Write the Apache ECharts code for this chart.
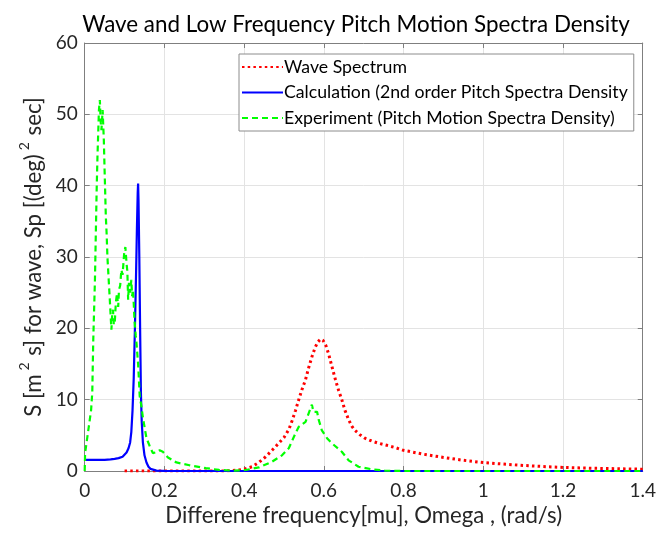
<!DOCTYPE html>
<html>
<head>
<meta charset="utf-8">
<script src="https://cdn.jsdelivr.net/npm/echarts@6/dist/echarts.min.js"></script>
<style>html,body{margin:0;padding:0;background:#fff}#c{width:659px;height:534px}</style>
</head>
<body>
<div id="c"></div>
<script>
var titleText = 'Wave and Low Frequency Pitch Motion Spectra Density';
var seriesNames = ['Wave Spectrum', 'Calculation (2nd order Pitch Spectra Density', 'Experiment (Pitch Motion Spectra Density)'];
var xTickLabels = ['0', '0.2', '0.4', '0.6', '0.8', '1', '1.2', '1.4'];
var yTickLabels = ['0', '10', '20', '30', '40', '50', '60'];

var waveX = [0.1,0.2,0.3,0.36,0.38,0.40,0.42,0.437,0.454,0.47,0.487,0.5,0.512,0.52,0.529,0.537,0.545,0.554,0.562,0.57,0.578,0.585,0.592,0.598,0.605,0.612,0.62,0.629,0.637,0.645,0.653,0.662,0.67,0.678,0.69,0.703,0.72,0.737,0.758,0.778,0.8,0.85,0.9,0.95,1.0,1.05,1.1,1.15,1.2,1.25,1.3,1.35,1.4];
var waveY = [0,0,0,0.02,0.1,0.25,0.6,1.2,2.0,2.9,3.9,4.7,5.8,7.0,8.5,10,11.4,12.8,14.5,16.0,17.3,18.1,18.5,18.3,17.6,16.4,14.7,12.8,11.3,10,8.5,7.2,6.3,5.7,5.1,4.6,4.2,3.9,3.6,3.3,2.9,2.35,1.9,1.5,1.18,0.97,0.78,0.63,0.5,0.42,0.36,0.3,0.25];

var calcX = [0,0.03,0.05,0.065,0.075,0.085,0.095,0.1,0.105,0.11,0.114,0.117,0.12,0.123,0.126,0.129,0.131,0.133,0.134,0.135,0.137,0.139,0.141,0.143,0.146,0.15,0.155,0.16,0.165,0.17,0.18,0.2,0.25,0.5,0.8,1.1,1.4];
var calcY = [1.55,1.55,1.57,1.62,1.7,1.8,2.0,2.2,2.6,3.2,4.0,5.5,8.5,13,20,28,34,39,40.3,38,30,20,11,7,4,2.2,1.2,0.6,0.3,0.15,0.05,0.02,0,0,0,0,0];

var expX = [0,0.001,0.008,0.016,0.019,0.0215,0.0257,0.03,0.032,0.0357,0.038,0.04,0.042,0.045,0.048,0.05,0.053,0.055,0.057,0.06,0.063,0.067,0.069,0.071,0.073,0.0756,0.078,0.081,0.084,0.086,0.089,0.092,0.095,0.099,0.102,0.105,0.107,0.109,0.111,0.114,0.117,0.119,0.121,0.123,0.125,0.128,0.13,0.134,0.138,0.142,0.146,0.15,0.155,0.163,0.171,0.178,0.188,0.196,0.209,0.23,0.263,0.304,0.337,0.37,0.404,0.437,0.47,0.495,0.512,0.529,0.537,0.554,0.57,0.574,0.583,0.587,0.595,0.608,0.62,0.645,0.662,0.687,0.72,0.753,0.8,1.0,1.2,1.4];
var expY = [0,2.5,5.3,8.5,11,18.4,26.8,39.4,44,50.6,52,49,47.8,50.6,46.4,42,35.7,33.3,30,27,24,19.8,22,22.6,20.5,21,23.5,24.9,23,25.4,26,28.2,27.5,30.5,31.4,29.1,28,24,26.4,25,26.8,24.5,25.4,23.5,21,19,17.9,15,10.5,9.2,7.5,6.2,4.6,3.5,2.5,2.6,2.9,2.7,1.9,1.2,0.8,0.4,0.15,0.05,0.14,0.5,1.3,2.2,3.2,5.3,6.2,6.9,9.3,8.3,8.3,7.2,5.7,4.6,3.9,2.7,1.5,0.6,0.24,0.05,0,0,0,0];

function pairs(xs, ys) { return xs.map(function (x, i) { return [x, ys[i]]; }); }

var FONT = 'Lato';
var TXT = '#262626';
var AX = '#7f7f7f';

var chart = echarts.init(document.getElementById('c'), null, {renderer: 'canvas'});
chart.setOption({
  animation: false,
  backgroundColor: '#fff',
  textStyle: {fontFamily: FONT},
  title: {
    text: titleText, left: 351, top: 9, textAlign: 'center',
    textStyle: {fontFamily: FONT, fontSize: 22.4, fontWeight: 'normal', color: '#000'}
  },
  legend: {
    orient: 'vertical', left: 239, top: 54,
    itemWidth: 41, itemHeight: 14, itemGap: 7.5,
    padding: [4, 6, 4, 2],
    backgroundColor: '#fff', borderColor: '#8c8c8c', borderWidth: 1,
    itemStyle: {opacity: 0},
    textStyle: {fontFamily: FONT, fontSize: 17.7, color: '#000', padding: [0, 0, 0, -4]},
    data: seriesNames
  },
  grid: {left: 84.7, right: 13, top: 43, bottom: 63, containLabel: false},
  xAxis: [{
    type: 'value', min: 0, max: 1.4, interval: 0.2,
    name: 'Differene frequency[mu], Omega , (rad/s)',
    nameLocation: 'middle', nameGap: 28,
    nameTextStyle: {fontFamily: FONT, fontSize: 22.2, color: TXT},
    axisLine: {show: true, onZero: false, lineStyle: {color: AX, width: 1}},
    axisTick: {show: true, inside: true, length: 5, lineStyle: {color: AX}},
    axisLabel: {fontFamily: FONT, fontSize: 19, color: TXT, margin: 10,
      formatter: function (v) { return xTickLabels[Math.round(v / 0.2)]; }},
    splitLine: {show: true, lineStyle: {color: '#e3e3e3', width: 1}}
  }, {
    type: 'value', min: 0, max: 1.4, interval: 0.2, position: 'top',
    axisLine: {show: true, onZero: false, lineStyle: {color: AX, width: 1}},
    axisTick: {show: true, inside: true, length: 5, lineStyle: {color: AX}},
    axisLabel: {show: false}, splitLine: {show: false}
  }],
  yAxis: [{
    type: 'value', min: 0, max: 60, interval: 10,
    name: '{n|S [m}{s|2}{n| s] for wave, Sp [(deg)}{s|2}{n| sec]}',
    nameLocation: 'middle', nameGap: 40,
    nameTextStyle: {
      rich: {
        n: {fontFamily: FONT, fontSize: 22.3, color: TXT, lineHeight: 27, verticalAlign: 'bottom'},
        s: {fontFamily: FONT, fontSize: 14, color: TXT, lineHeight: 27, verticalAlign: 'top', padding: [0, 1, 0, 4]}
      }
    },
    axisLine: {show: true, onZero: false, lineStyle: {color: AX, width: 1}},
    axisTick: {show: true, inside: true, length: 5, lineStyle: {color: AX}},
    axisLabel: {fontFamily: FONT, fontSize: 19, color: TXT, margin: 7,
      formatter: function (v) { return yTickLabels[Math.round(v / 10)]; }},
    splitLine: {show: true, lineStyle: {color: '#e3e3e3', width: 1}}
  }, {
    type: 'value', min: 0, max: 60, interval: 10, position: 'right',
    axisLine: {show: true, onZero: false, lineStyle: {color: AX, width: 1}},
    axisTick: {show: true, inside: true, length: 5, lineStyle: {color: AX}},
    axisLabel: {show: false}, splitLine: {show: false}
  }],
  series: [{
    name: seriesNames[0], type: 'line', showSymbol: false, symbol: 'none',
    data: pairs(waveX, waveY), z: 2,
    itemStyle: {color: '#ff0000'},
    lineStyle: {color: '#ff0000', width: 3, type: [2.5, 3.2], cap: 'butt'}
  }, {
    name: seriesNames[1], type: 'line', showSymbol: false, symbol: 'none',
    data: pairs(calcX, calcY), z: 3,
    itemStyle: {color: '#0000ff'},
    lineStyle: {color: '#0000ff', width: 2.2, type: 'solid'}
  }, {
    name: seriesNames[2], type: 'line', showSymbol: false, symbol: 'none',
    data: pairs(expX, expY), z: 4,
    itemStyle: {color: '#00ff00'},
    lineStyle: {color: '#00ff00', width: 2.2, type: [6, 4]}
  }]
});
</script>
</body>
</html>
